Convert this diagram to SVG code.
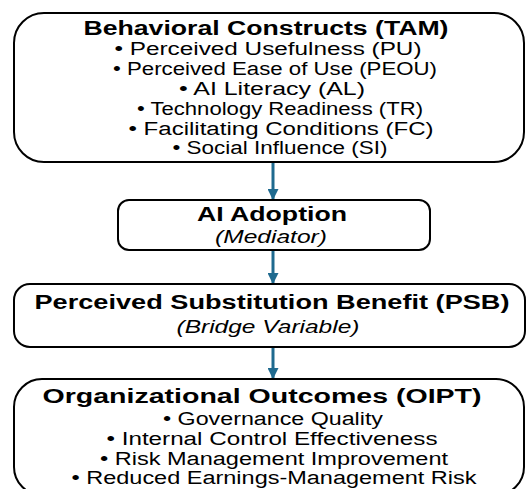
<svg xmlns="http://www.w3.org/2000/svg" width="526" height="489" viewBox="0 0 526 489">
  <defs>
    <marker id="arrowhead" viewBox="0 0 10 10" refX="9" refY="5" markerWidth="11" markerHeight="11" markerUnits="userSpaceOnUse" orient="auto">
      <path d="M0,0 L10,5 L0,10 Z" fill="#1f6a8f"/>
    </marker>
    <style>
      .box { fill: #ffffff; stroke: #000000; stroke-width: 2; }
      .title { font-family: "Liberation Sans", Arial, sans-serif; font-weight: bold; font-size: 20px; fill: #000; text-anchor: middle; }
      .item { font-family: "Liberation Sans", Arial, sans-serif; font-size: 18px; fill: #000; text-anchor: middle; }
      .role { font-family: "Liberation Sans", Arial, sans-serif; font-style: italic; font-size: 18px; fill: #000; text-anchor: middle; }
      .link { stroke: #1f6a8f; stroke-width: 3; fill: none; marker-end: url(#arrowhead); }
    </style>
  </defs>
  <rect width="526" height="489" fill="#ffffff"/>

  <!-- connectors -->
  <g id="connectors">
    <line class="link" x1="273" y1="163" x2="273" y2="199"/>
    <line class="link" x1="273" y1="251" x2="273" y2="283"/>
    <line class="link" x1="273" y1="348" x2="273" y2="378"/>
  </g>

  <!-- behavioral constructs -->
  <g id="tam">
    <rect class="box" x="14" y="13" width="510" height="149" rx="30" ry="30"/>
    <text class="title" x="266" y="35" textLength="365" lengthAdjust="spacingAndGlyphs">Behavioral Constructs (TAM)</text>
    <text class="item" x="268" y="55" textLength="307" lengthAdjust="spacingAndGlyphs">• Perceived Usefulness (PU)</text>
    <text class="item" x="275" y="75" textLength="324" lengthAdjust="spacingAndGlyphs">• Perceived Ease of Use (PEOU)</text>
    <text class="item" x="272" y="95" textLength="186" lengthAdjust="spacingAndGlyphs">• AI Literacy (AL)</text>
    <text class="item" x="280" y="115" textLength="286" lengthAdjust="spacingAndGlyphs">• Technology Readiness (TR)</text>
    <text class="item" x="281" y="135" textLength="305" lengthAdjust="spacingAndGlyphs">• Facilitating Conditions (FC)</text>
    <text class="item" x="280" y="154" textLength="215" lengthAdjust="spacingAndGlyphs">• Social Influence (SI)</text>
  </g>

  <!-- mediator -->
  <g id="adoption">
    <rect class="box" x="118" y="200" width="312" height="50" rx="11" ry="11"/>
    <text class="title" x="272" y="221" textLength="150" lengthAdjust="spacingAndGlyphs">AI Adoption</text>
    <text class="role" x="271" y="243" textLength="112" lengthAdjust="spacingAndGlyphs">(Mediator)</text>
  </g>

  <!-- bridge variable -->
  <g id="psb">
    <rect class="box" x="14" y="284" width="511" height="63" rx="16" ry="16"/>
    <text class="title" x="272" y="309" textLength="475" lengthAdjust="spacingAndGlyphs">Perceived Substitution Benefit (PSB)</text>
    <text class="role" x="268" y="333" textLength="183" lengthAdjust="spacingAndGlyphs">(Bridge Variable)</text>
  </g>

  <!-- outcomes -->
  <g id="outcomes">
    <rect class="box" x="14" y="379" width="510" height="116" rx="28" ry="28"/>
    <text class="title" x="262" y="403" textLength="439" lengthAdjust="spacingAndGlyphs">Organizational Outcomes (OIPT)</text>
    <text class="item" x="273" y="425" textLength="220" lengthAdjust="spacingAndGlyphs">• Governance Quality</text>
    <text class="item" x="272" y="445" textLength="331" lengthAdjust="spacingAndGlyphs">• Internal Control Effectiveness</text>
    <text class="item" x="274" y="465" textLength="348" lengthAdjust="spacingAndGlyphs">• Risk Management Improvement</text>
    <text class="item" x="274" y="484" textLength="405" lengthAdjust="spacingAndGlyphs">• Reduced Earnings-Management Risk</text>
  </g>
</svg>
